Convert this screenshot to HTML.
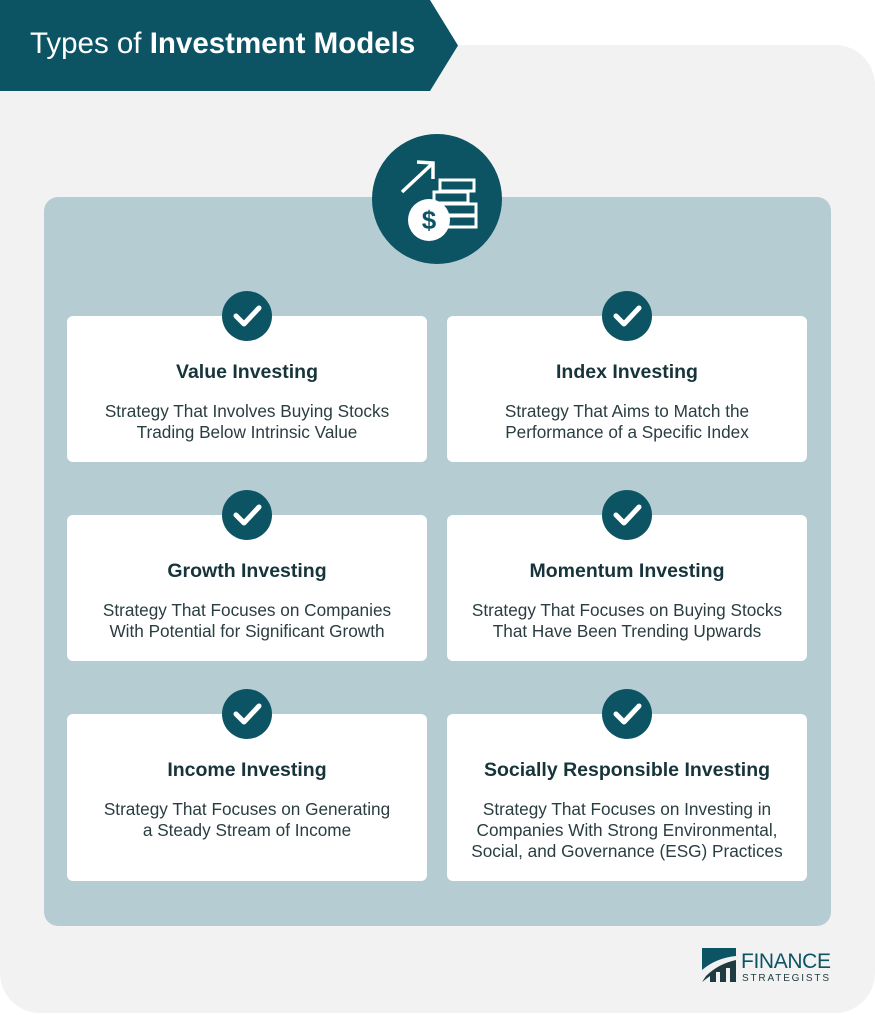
<!DOCTYPE html>
<html><head><style>
body{margin:0;width:875px;height:1015px;background:#fff;position:relative;font-family:"Liberation Sans",sans-serif;overflow:hidden}
.gray{position:absolute;left:0;top:45px;width:875px;height:968px;background:#f2f2f2;border-radius:0 40px 40px 40px}
.hdr{position:absolute;left:0;top:0;width:458px;height:91px}
.title{position:absolute;left:30px;top:27px;color:#fff;font-size:29.5px;white-space:nowrap}
.panel{position:absolute;left:44px;top:197px;width:787px;height:729px;background:#b5cdd2;border-radius:14px}
.circ{position:absolute;left:372px;top:134px;width:130px;height:130px;border-radius:50%;background:#0c5464}
.card{position:absolute;width:360px;background:#fff;border-radius:6px;text-align:center;color:#1f3b40}
.card h3{margin:45px 0 17px;font-size:19.5px;font-weight:bold;color:#17343a}
.card p{margin:0;font-size:17.2px;line-height:21px;color:#2a3d40;white-space:nowrap}
</style></head><body>
<div class="gray"></div>
<svg class="hdr" viewBox="0 0 458 91"><polygon points="0,0 430,0 458,45.5 430,91 0,91" fill="#0c5464"/></svg>
<div class="title">Types of <b>Investment Models</b></div>
<div class="panel"></div>
<div class="circ"><svg width="130" height="130" viewBox="0 0 130 130">
<g stroke="#fff" stroke-width="3.5" fill="none"><line x1="30" y1="58" x2="60" y2="30"/><polyline points="45,28 61,29 61,45"/></g>
<g fill="none" stroke="#fff" stroke-width="3"><rect x="68" y="46" width="34" height="11"/><rect x="62" y="58" width="34" height="11"/><rect x="70" y="70" width="34" height="11"/><rect x="70" y="82" width="34" height="11"/></g>
<circle cx="57" cy="86" r="21" fill="#fff"/><text x="57" y="95" text-anchor="middle" font-size="26" font-weight="bold" fill="#0c5464" font-family="Liberation Sans">$</text></svg></div>

<div class="card" style="left:67px;top:316px;height:146px"><h3>Value Investing</h3><p>Strategy That Involves Buying Stocks<br>Trading Below Intrinsic Value</p></div>
<div class="card" style="left:447px;top:316px;height:146px"><h3>Index Investing</h3><p>Strategy That Aims to Match the<br>Performance of a Specific Index</p></div>
<div class="card" style="left:67px;top:515px;height:146px"><h3>Growth Investing</h3><p>Strategy That Focuses on Companies<br>With Potential for Significant Growth</p></div>
<div class="card" style="left:447px;top:515px;height:146px"><h3>Momentum Investing</h3><p>Strategy That Focuses on Buying Stocks<br>That Have Been Trending Upwards</p></div>
<div class="card" style="left:67px;top:714px;height:167px"><h3>Income Investing</h3><p>Strategy That Focuses on Generating<br>a Steady Stream of Income</p></div>
<div class="card" style="left:447px;top:714px;height:167px"><h3>Socially Responsible Investing</h3><p>Strategy That Focuses on Investing in<br>Companies With Strong Environmental,<br>Social, and Governance (ESG) Practices</p></div>

<svg style="position:absolute;left:0;top:0" width="875" height="1015">
<defs><g id="c"><circle r="25" fill="#0c5464"/><polyline points="-11,0 -3,8 12,-8" fill="none" stroke="#fff" stroke-width="5" stroke-linecap="round" stroke-linejoin="round"/></g></defs>
<use href="#c" x="247" y="316"/><use href="#c" x="627" y="316"/>
<use href="#c" x="247" y="515"/><use href="#c" x="627" y="515"/>
<use href="#c" x="247" y="714"/><use href="#c" x="627" y="714"/>
<g transform="translate(702,948)"><path d="M0,0 H34 V8 Q14,10 0,22 Z" fill="#0c5464"/><path d="M0,34 L4,28 Q16,16 34,12 V34 H28 V20 H24 V34 H18 V24 H14 V34 H8 V28 Z" fill="#1f3b40"/></g>
<text x="741" y="968" font-size="21" fill="#0c5464" font-family="Liberation Sans" textLength="90">FINANCE</text>
<text x="742" y="981" font-size="10" fill="#1f3b40" font-family="Liberation Sans" textLength="89" letter-spacing="2">STRATEGISTS</text>
</svg>
</body></html>
